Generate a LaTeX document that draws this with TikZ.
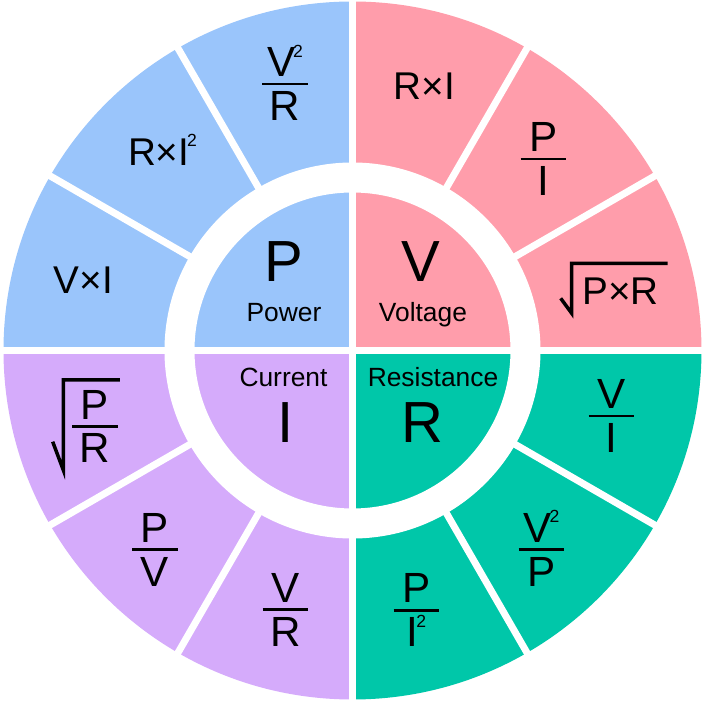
\documentclass[tikz,border=0pt]{standalone}
\usepackage{fontspec}
\setmainfont{Liberation Sans}
\definecolor{powerblue}{RGB}{154,197,251}
\definecolor{voltpink}{RGB}{255,157,171}
\definecolor{resgreen}{RGB}{0,199,169}
\definecolor{curpurple}{RGB}{213,171,251}
\newcommand{\frc}[2]{\vbox{\offinterlineskip\halign{\hfil##\hfil\cr#1\cr\noalign{\kern1.7pt}\rule{13pt}{0.85pt}\cr\noalign{\kern1.7pt}#2\cr}}}
\newcommand{\suptwo}{\kern-0.6pt\raisebox{5.5pt}[0pt][0pt]{\fontsize{5}{5}\selectfont 2}}
\begin{document}
\begin{tikzpicture}[x=0.01cm,y=0.01cm,
        letter/.style={font=\fontsize{16.5}{18}\selectfont,inner sep=0pt,anchor=base},
        lbl/.style={font=\fontsize{7.5}{9}\selectfont,inner sep=0pt,anchor=base},
        frm/.style={font=\fontsize{11}{13}\selectfont,inner sep=0pt,anchor=base},
        fracnode/.style={font=\fontsize{12}{14}\selectfont,inner sep=0pt},
        gap/.style={white,line width=0.07cm},
        radical/.style={line width=0.035cm,line join=miter}]
        \useasboundingbox (-352.5,-352.5) rectangle (352.5,350.5);
        % quadrants
        \fill[powerblue] (0,0) -- (90:349) arc (90:180:349) -- cycle;
        \fill[voltpink] (0,0) -- (0:349) arc (0:90:349) -- cycle;
        \fill[curpurple] (0,0) -- (180:349) arc (180:270:349) -- cycle;
        \fill[resgreen] (0,0) -- (270:349) arc (270:360:349) -- cycle;
        % white ring and gaps
        \draw[white,line width=0.3cm] (0,0) circle (173);
        \draw[gap] (-352,0) -- (352,0);
        \draw[gap] (0,-352) -- (0,352);
        \draw[gap] (30:173) -- (30:352);
        \draw[gap] (60:173) -- (60:352);
        \draw[gap] (120:173) -- (120:352);
        \draw[gap] (150:173) -- (150:352);
        \draw[gap] (210:173) -- (210:352);
        \draw[gap] (240:173) -- (240:352);
        \draw[gap] (300:173) -- (300:352);
        \draw[gap] (330:173) -- (330:352);
        % centre
        \node[letter] (P) at (-68.5,68.5) {P};
        \node[lbl] (power) at (-68.5,28.5) {Power};
        \node[letter] (V) at (68.5,68.5) {V};
        \node[lbl] (voltage) at (70.5,28.8) {Voltage};
        \node[lbl] (current) at (-69,-36.5) {Current};
        \node[letter] (I) at (-67,-92.5) {I};
        \node[lbl] (resistance) at (80.5,-36.5) {Resistance};
        \node[letter] (R) at (70,-92.5) {R};
        % power
        \node[fracnode] (pVVR) at (-67.5,266.5) {\frc{V\suptwo}{R}};
        \node[frm] (pRII) at (-190,184.8) {R×I\suptwo};
        \node[frm] (pVI) at (-269.2,57.2) {V×I};
        % voltage
        \node[frm] (vRI) at (71.8,250.5) {R×I};
        \node[fracnode] (vPI) at (191,191.5) {\frc{P}{I}};
        \node[frm] (vPR) at (268,45.5) {P×R};
        \draw[radical] (208.2,52.2) -- (219.2,37.2) -- (219.2,87.2) -- (315.2,87.2);
        % resistance
        \node[fracnode] (rVI) at (259,-65.5) {\frc{V}{I}};
        \node[fracnode] (rVVP) at (189,-199.2) {\frc{V\suptwo}{P}};
        \node[fracnode] (rPII) at (64,-259.8) {\frc{P}{I\suptwo}};
        % current
        \node[fracnode] (iVR) at (-67,-259.2) {\frc{V}{R}};
        \node[fracnode] (iPV) at (-197.5,-199.2) {\frc{P}{V}};
        \node[fracnode] (iPR) at (-257.5,-76) {\frc{P}{R}};
        \draw[radical] (-299.8,-91.2) -- (-289.2,-119.5) -- (-289.2,-29.5) -- (-232.5,-29.5);
    \end{tikzpicture}
\end{document}
